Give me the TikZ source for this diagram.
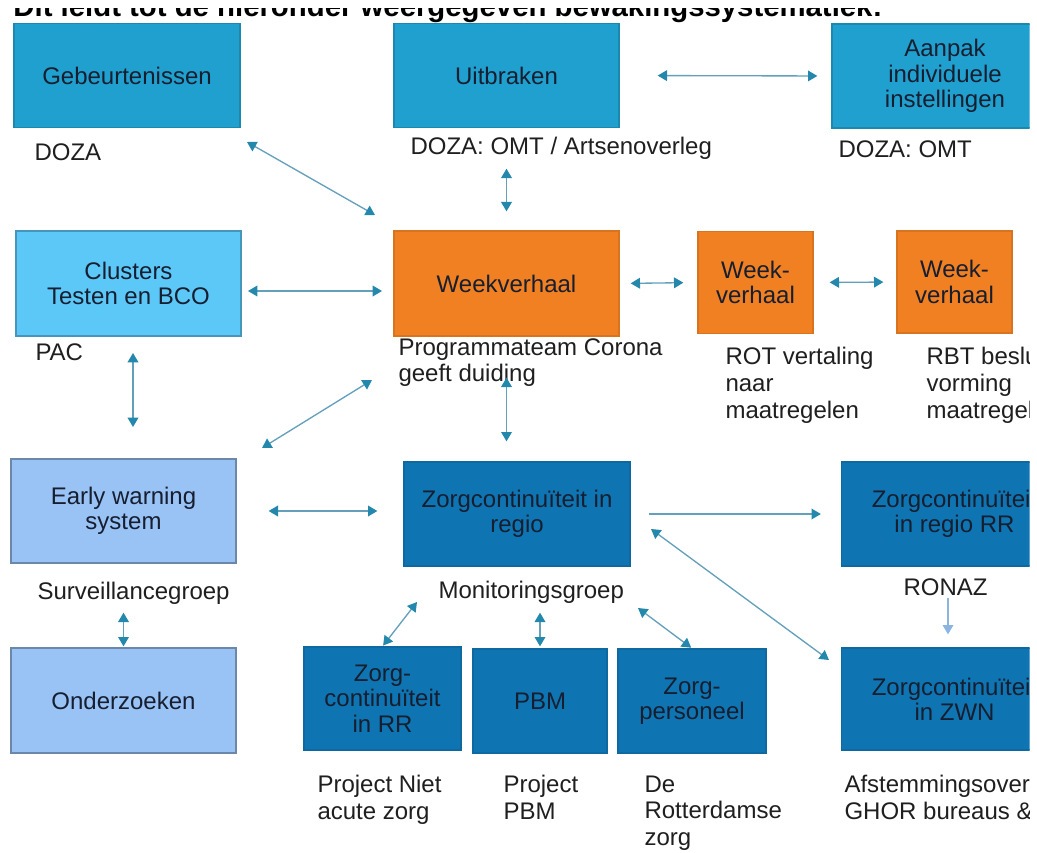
\documentclass[tikz,border=0pt]{standalone}
\usepackage{fontspec}
\setmainfont{Liberation Sans}
\usetikzlibrary{arrows.meta}

\definecolor{topblue}{RGB}{32,160,207}
\definecolor{clusterblue}{RGB}{92,200,248}
\definecolor{ewsblue}{RGB}{153,194,245}
\definecolor{weekorange}{RGB}{240,128,34}
\definecolor{zorgblue}{RGB}{14,117,178}
\definecolor{arrhead}{RGB}{36,136,172}
\definecolor{arrline}{RGB}{100,160,188}
\definecolor{ronazline}{RGB}{140,180,225}
\definecolor{boxtext}{RGB}{22,30,48}

\tikzset{every picture/.style={line width=0.75pt}}
\tikzset{
  box/.style={rectangle, draw, line width=1pt, inner sep=0.75pt, align=center, text=boxtext, font=\fontsize{18}{19}\selectfont},
  topbox/.style={box, fill=topblue, draw=topblue!85!black},
  clusterbox/.style={box, fill=clusterblue, draw=clusterblue!75!black},
  ewsbox/.style={box, fill=ewsblue, draw=ewsblue!70!black},
  weekbox/.style={box, fill=weekorange, draw=weekorange!90!black},
  zorgbox/.style={box, fill=zorgblue, draw=zorgblue!90!black},
  lbl/.style={anchor=north west, inner sep=0.75pt, align=left, text=black!88, font=\fontsize{18}{20}\selectfont},
  dbl/.style={draw=arrline, line width=1pt, arrows={Triangle[length=7pt,width=8pt,color=arrhead]-Triangle[length=7pt,width=8pt,color=arrhead]}},
  sgl/.style={draw=arrline, line width=1pt, arrows={-Triangle[length=7pt,width=8pt,color=arrhead]}},
}

\begin{document}
\begin{tikzpicture}[x=0.75pt,y=0.75pt,yscale=-1,xscale=1]
    \useasboundingbox (0,0) rectangle (1037,852);
    \fill[white] (0,0) rectangle (1037,852);
    \clip (0,0) rectangle (1029.5,852);

    % Title (cut off at the top)
    \begin{scope}
    \clip (0,9) rectangle (1037,24);
    \node [anchor=base west, inner sep=0pt, font=\bfseries\fontsize{22}{26}\selectfont] (kop) at (13,17) {Dit leidt tot de hieronder weergegeven bewakingssystematiek:};
    \end{scope}

    %Shape: Rectangle
    \node [topbox, minimum width=169.5pt, minimum height=78pt] (gebeur) at (127,75.5) {Gebeurtenissen};
    %Shape: Rectangle
    \node [topbox, minimum width=168.75pt, minimum height=78pt] (uitbr) at (506.5,75.5) {Uitbraken};
    %Shape: Rectangle
    \node [topbox, minimum width=169.5pt, minimum height=78pt] (aanpak) at (945,76) {Aanpak\\individuele\\instellingen};

    %Shape: Rectangle
    \node [clusterbox, minimum width=168.75pt, minimum height=78.75pt] (clusters) at (128.5,283.5) {Clusters\\Testen en BCO};
    %Shape: Rectangle
    \node [weekbox, minimum width=168.75pt, minimum height=78.75pt] (week) at (506.5,283.5) {Weekverhaal};
    %Shape: Rectangle
    \node [weekbox, minimum width=86.25pt, minimum height=76.5pt] (weekrot) at (755.5,282.5) {Week-\\verhaal};
    %Shape: Rectangle
    \node [weekbox, minimum width=86.25pt, minimum height=76.5pt] (weekrbt) at (954.5,282) {Week-\\verhaal};

    %Shape: Rectangle
    \node [ewsbox, minimum width=168.75pt, minimum height=78pt] (ews) at (123.5,511) {Early warning\\system};
    %Shape: Rectangle
    \node [ewsbox, minimum width=168.75pt, minimum height=78.75pt] (onderz) at (123.5,700.5) {Onderzoeken};
    %Shape: Rectangle
    \node [zorgbox, minimum width=169.5pt, minimum height=78pt] (zreg) at (517,514) {Zorgcontinuïteit in\\regio};
    %Shape: Rectangle
    \node [zorgbox, minimum width=169.5pt, minimum height=78pt] (zregrr) at (954.5,514) {Zorgcontinuïteit\\in regio RR};
    %Shape: Rectangle
    \node [zorgbox, minimum width=169.5pt, minimum height=76.5pt] (zwn) at (954.5,699) {Zorgcontinuïteit\\in ZWN};
    %Shape: Rectangle
    \node [zorgbox, minimum width=117.75pt, minimum height=77.25pt] (zrr) at (382.5,698.5) {Zorg-\\continuïteit\\in RR};
    %Shape: Rectangle
    \node [zorgbox, minimum width=100.5pt, minimum height=78pt] (pbm) at (540,701) {PBM};
    %Shape: Rectangle
    \node [zorgbox, minimum width=111pt, minimum height=78pt] (zpers) at (692,701) {Zorg-\\personeel};

    % Text Node
    \node [lbl] (doza) at (33,142) {DOZA};
    % Text Node
    \node [lbl] (dozaomt) at (409,136) {DOZA: OMT / Artsenoverleg};
    % Text Node
    \node [lbl] (dozaaanpak) at (837,139) {DOZA: OMT};
    % Text Node
    \node [lbl] (pac) at (34,342) {PAC};
    % Text Node
    \node [lbl] (progteam) at (397,337) {Programmateam Corona\\geeft duiding};
    % Text Node
    \node [lbl] (rot) at (724,346) {ROT vertaling\\naar\\maatregelen};
    % Text Node
    \node [lbl] (rbt) at (925,346) {RBT besluit-\\vorming\\maatregelen};
    % Text Node
    \node [lbl] (surv) at (36,581) {Surveillancegroep};
    % Text Node
    \node [lbl] (monitor) at (437,580) {Monitoringsgroep};
    % Text Node
    \node [lbl] (ronaz) at (902,577) {RONAZ};
    % Text Node
    \node [lbl] (projnaz) at (316,774) {Project Niet\\acute zorg};
    % Text Node
    \node [lbl] (projpbm) at (502,774) {Project\\PBM};
    % Text Node
    \node [lbl] (rdamzorg) at (643,774) {De\\Rotterdamse\\zorg};
    % Text Node
    \node [lbl] (afstem) at (843,774) {Afstemmingsoverleg\\GHOR bureaus \&};

    % free ends of the loose arrows
    \coordinate (gw-a) at (247,142);
    \coordinate (gw-b) at (375,215);
    \coordinate (cw-a) at (248,291);
    \coordinate (cw-b) at (382,291);
    \coordinate (pe-a) at (133,353);
    \coordinate (pe-b) at (133,427);
    \coordinate (we-a) at (372,380);
    \coordinate (we-b) at (262,448);
    \coordinate (mz-a) at (417,602);
    \coordinate (mp-a) at (638,608);
    \coordinate (zw-a) at (651,529);
    \coordinate (zw-b) at (829,660);
    \coordinate (rz-a) at (948,598);

    %Straight Lines
    \draw [dbl] (gw-a) -- (gw-b);
    %Straight Lines
    \draw [dbl, shorten <=30.4pt, shorten >=14.25pt] (uitbr.south) -- (week.north);
    %Straight Lines
    \draw [dbl, shorten <=28.5pt, shorten >=10.5pt] (uitbr.east) -- (aanpak.west);
    %Straight Lines
    \draw [dbl] (cw-a) -- (cw-b);
    %Straight Lines
    \draw [dbl] (pe-a) -- (pe-b);
    %Straight Lines
    \draw [dbl] (we-a) -- (we-b);
    %Straight Lines
    \draw [dbl, shorten <=30.75pt, shorten >=15pt] (week.south) -- (week.south |- zreg.north);
    %Straight Lines
    \draw [dbl, shorten <=8.25pt, shorten >=10.5pt] (week.east) -- (weekrot.west);
    %Straight Lines
    \draw [dbl, shorten <=12pt, shorten >=9.75pt] (weekrot.east) -- (weekrbt.west);
    %Straight Lines
    \draw [dbl, shorten <=24pt, shorten >=19.5pt] (ews.east) -- (ews.east -| zreg.west);
    %Straight Lines
    \draw [dbl, shorten <=36.75pt, shorten >=0.75pt] (ews.south) -- (onderz.north);
    %Straight Lines
    \draw [dbl, shorten >=0.75pt] (mz-a) -- (zrr.north);
    %Straight Lines
    \draw [dbl, shorten <=34.5pt, shorten >=1.5pt] (zreg.south -| pbm.north) -- (pbm.north);
    %Straight Lines
    \draw [dbl, shorten >=0.75pt] (mp-a) -- (zpers.north);
    %Straight Lines
    \draw [sgl, shorten <=13.5pt, shorten >=15pt] (zreg.east) -- (zreg.east -| zregrr.west);
    %Straight Lines
    \draw [dbl] (zw-a) -- (zw-b);
    %Straight Lines
    \draw [sgl, draw=ronazline, arrows={-Triangle[length=7pt,width=8pt,color=ronazline]}, shorten >=9.75pt] (rz-a) -- (rz-a |- zwn.north);

\end{tikzpicture}
\end{document}
